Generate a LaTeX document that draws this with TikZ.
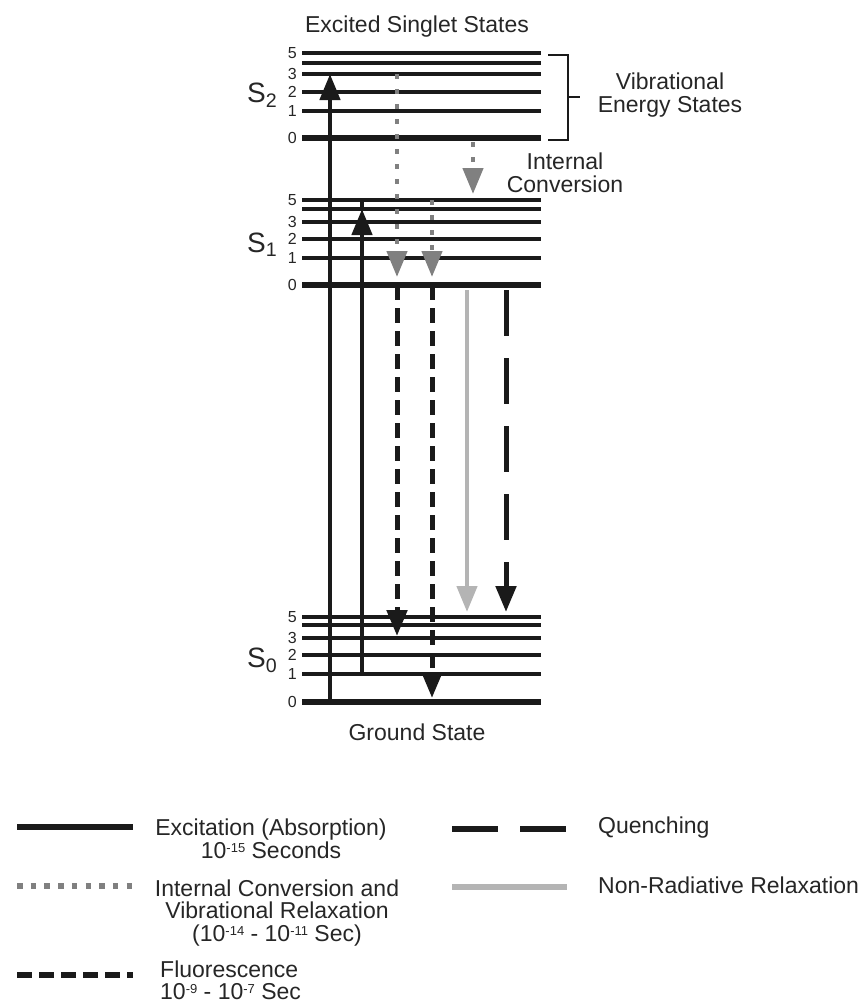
\documentclass[tikz,border=0pt]{standalone}
\usepackage{fontspec}
\setmainfont{Liberation Sans}
\usetikzlibrary{arrows.meta}
\definecolor{LevelInk}{HTML}{1A1A1A}
\definecolor{TextInk}{HTML}{262626}
\definecolor{ConvGray}{HTML}{808080}
\definecolor{RelaxGray}{HTML}{B4B4B4}
\newcommand{\pw}[1]{\raisebox{6pt}{\fontsize{13}{13}\selectfont#1}}
\tikzset{>={Triangle[width=20pt,length=26pt]},every node/.style={font=\fontsize{23}{22.5}\selectfont,
 text=TextInk,inner sep=0pt},level/.style={draw=LevelInk,line width=#1},
 excite/.style={draw=LevelInk,line width=4.5pt},conv/.style={draw=ConvGray,line width=4.5pt,
 dash pattern=on 5pt off 10pt},fluor/.style={draw=LevelInk,line width=5pt,dash pattern=on 15pt off 8pt},
 relax/.style={draw=RelaxGray,line width=4.5pt},quench/.style={draw=LevelInk,line width=5pt,
 dash pattern=on 46pt off 22pt}}

\begin{document}
\begin{tikzpicture}[x=1pt,y=-1pt,
 num/.style={font=\fontsize{16}{16}\selectfont,anchor=east},
 st/.style={font=\fontsize{28}{28}\selectfont,anchor=base west},
 key/.style={line width=6pt}]
\useasboundingbox (0,0) rectangle (862,1007);
\foreach \n/\y/\w in {5/53/4pt,4/63/4pt,3/74/4pt,2/92/4pt,1/111/4pt,0/138/6pt}
 \draw[level=\w] (302,\y) coordinate (a\n) -- (541,\y);
\foreach \n/\y/\w in {5/200/4pt,4/209/4pt,3/222/4pt,2/239/4pt,1/258/4pt,0/285/6pt}
 \draw[level=\w] (302,\y) coordinate (b\n) -- (541,\y);
\foreach \n/\y/\w in {5/617/4pt,4/625/4pt,3/638/4pt,2/655/4pt,1/674/4pt,0/702/6pt}
 \draw[level=\w] (302,\y) coordinate (c\n) -- (541,\y);
\foreach \s in {a,b,c}\foreach \n in {5,3,2,1,0}
 \node[num] (\s\n l) at ([xshift=-5pt]\s\n) {\n};
\node[st] (s2) at (247,102) {S\textsubscript{2}};
\node[st] (s1) at (247,252) {S\textsubscript{1}};
\node[st] (s0) at (247,667) {S\textsubscript{0}};
\node[anchor=base] (top) at (417,32) {Excited Singlet States};
\node[anchor=base] (gnd) at (417,740) {Ground State};
\draw[LevelInk,line width=1.5pt] (548,55)--(568,55)--(568,140) coordinate (br)--(548,140);
\draw[LevelInk,line width=1.5pt] (568,97) coordinate (bm)--(580,97);
\node[align=center] (vib) at (670,95) {Vibrational\\Energy States};
\node[align=center] (ic) at (565,173) {Internal\\Conversion};
\coordinate (x1) at (330,0);\coordinate (x2) at (362,0);\coordinate (x3) at (397,0);
\coordinate (x4) at (432,0);\coordinate (x5) at (467,0);\coordinate (x6) at (506,0);
\coordinate (d1) at (397,277);\coordinate (d2) at (432,277);
\coordinate (i1) at (473,142);\coordinate (i2) at (473,194);
\coordinate (f1) at (397,636);\coordinate (f2) at (432,698);
\coordinate (r1) at (467,290);\coordinate (r2) at (467,612);
\coordinate (q1) at (506,290);\coordinate (q2) at (506,612);
\draw[excite,->] (c0 -| x1) -- (a3 -| x1);
\draw[excite,->] (c1 -| x2) -- (b4 -| x2);
\draw[excite] (b4 -| x2) -- (b5 -| x2);
\draw[conv,->] (a3 -| x3) -- (d1);
\draw[conv,->] (b5 -| x4) -- (d2);
\draw[conv,->] (i1) -- (i2);
\draw[fluor,->] (b0 -| x3) -- (f1);
\draw[fluor,->] (b0 -| x4) -- (f2);
\draw[relax,->] (r1) -- (r2);
\draw[quench,->] (q1) -- (q2);
\draw[excite,key] (17,827) coordinate (k1) -- (133,827);
\draw[conv,key,dash pattern=on 5.5pt off 8.2pt] (17,886) coordinate (k2) -- (134,886);
\draw[fluor,key,dash pattern=on 15pt off 7pt] (17,975) coordinate (k3) -- (133,975);
\draw[quench,key] (452,829) coordinate (k4) -- (567,829);
\draw[relax,key] (452,887) coordinate (k5) -- (567,887);
\node[align=center] (t1) at (271,839) {Excitation (Absorption)\\10\pw{-15} Seconds};
\node[align=center] (t2) at (277,913) {Internal Conversion and\\Vibrational Relaxation\\(10\pw{-14} - 10\pw{-11} Sec)};
\node[align=left,anchor=west,font=\fontsize{23}{22}\selectfont] (t3) at (160,980) {Fluorescence\\10\pw{-9} - 10\pw{-7} Sec};
\node[anchor=base west] (t4) at (598,833) {Quenching};
\node[anchor=base west] (t5) at (598,893) {Non-Radiative Relaxation};
\end{tikzpicture}
\end{document}
